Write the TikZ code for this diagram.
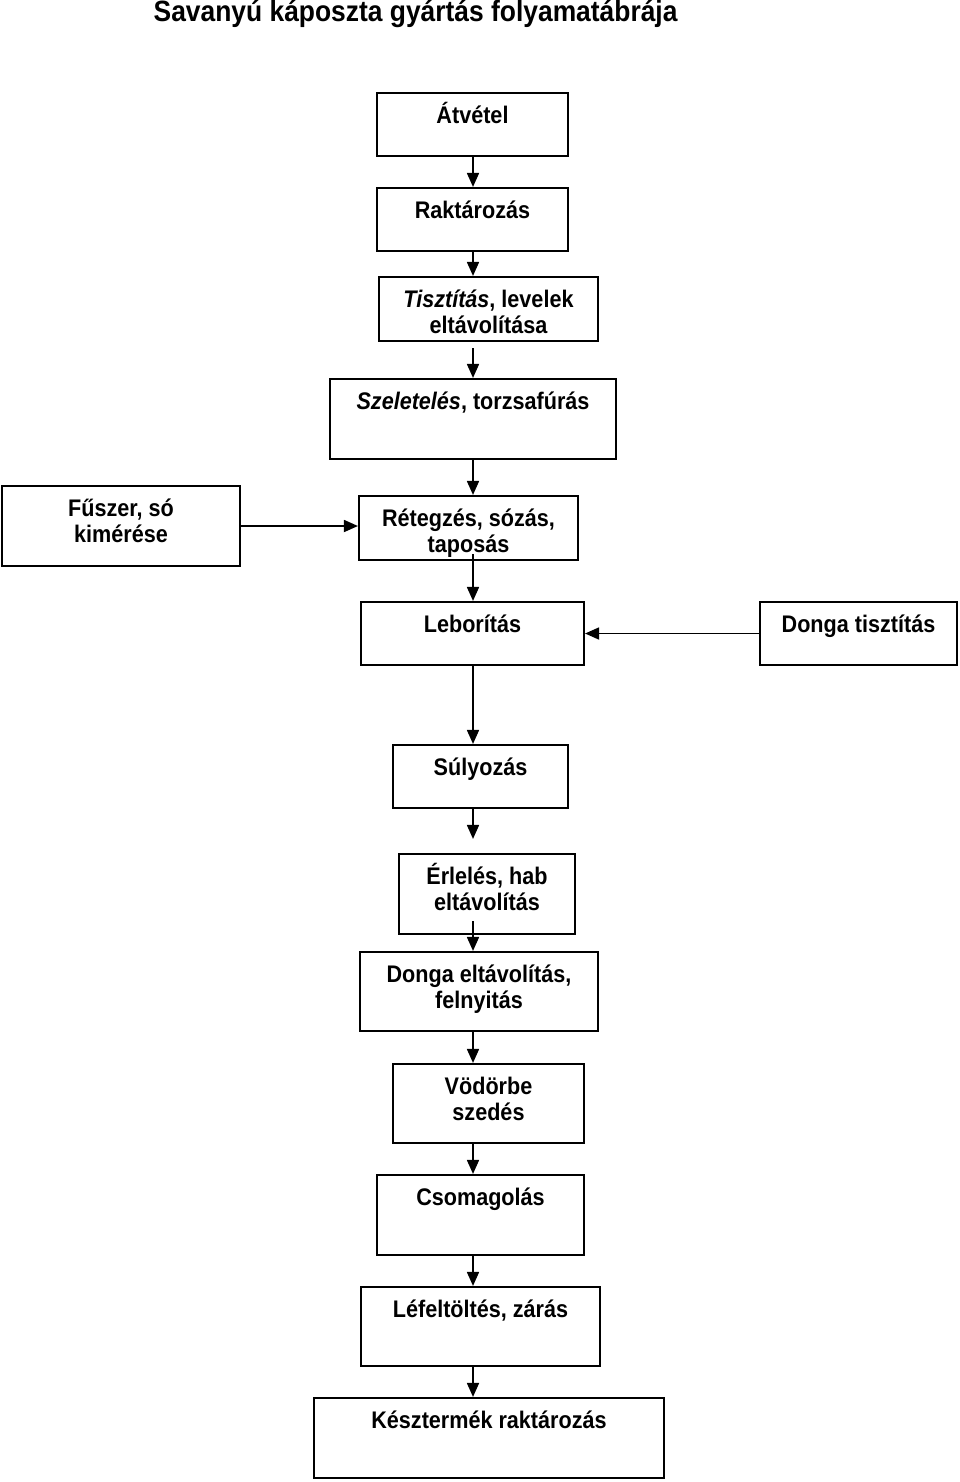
\documentclass[tikz,border=0pt]{standalone}
\usepackage{fontspec}
\setmainfont{Liberation Sans}
\newfontfamily\boxfont[FakeStretch=0.9]{Liberation Sans}
\usetikzlibrary{arrows.meta}
\newdimen\pxu \pxu=0.75pt
\newcommand\bx[2]{\raisebox{0pt}[30\pxu][\dimexpr #1\pxu-30\pxu\relax]{\begin{tabular}[t]{@{}c@{}}#2\end{tabular}}}
\begin{document}
\begin{tikzpicture}[x=0.75pt,y=-0.75pt,
  pbox/.style={draw, line width=1.6pt, inner sep=0pt, font=\boxfont\fontsize{18}{19.5}\selectfont\bfseries},
  conn/.style={line width=1.3pt, -{Triangle[length=10.5pt,width=9pt]}}]
\useasboundingbox (0,0) rectangle (960,1482);
\node[anchor=west, font=\boxfont\fontsize{22}{26}\selectfont\bfseries] (title) at (149,14) {Savanyú káposzta gyártás folyamatábrája};
\node[pbox, minimum width=191\pxu] (a) at (472.5,124.5) {\bx{63}{Átvétel}};
\node[pbox, minimum width=191\pxu] (b) at (472.5,219.5) {\bx{63}{Raktározás}};
\node[pbox, minimum width=219\pxu] (c) at (488.5,309) {\bx{64}{\textit{Tisztítás}, levelek\\eltávolítása}};
\node[pbox, minimum width=286\pxu] (d) at (473,419) {\bx{80}{\textit{Szeletelés}, torzsafúrás}};
\node[pbox, minimum width=238\pxu] (e) at (121,526) {\bx{80}{Fűszer, só\\kimérése}};
\node[pbox, minimum width=219\pxu] (f) at (468.5,528) {\bx{64}{Rétegzés, sózás,\\taposás}};
\node[pbox, minimum width=223\pxu] (g) at (472.5,633.5) {\bx{63}{Leborítás}};
\node[pbox, minimum width=197\pxu] (h) at (858.5,633.5) {\bx{63}{Donga tisztítás}};
\node[pbox, minimum width=175\pxu] (i) at (480.5,776.5) {\bx{63}{Súlyozás}};
\node[pbox, minimum width=176\pxu] (j) at (487,894) {\bx{80}{Érlelés, hab\\eltávolítás}};
\node[pbox, minimum width=238\pxu] (k) at (479,991.5) {\bx{79}{Donga eltávolítás,\\felnyitás}};
\node[pbox, minimum width=191\pxu] (l) at (488.5,1103.5) {\bx{79}{Vödörbe\\szedés}};
\node[pbox, minimum width=207\pxu] (m) at (480.5,1215) {\bx{80}{Csomagolás}};
\node[pbox, minimum width=239\pxu] (n) at (480.5,1326.5) {\bx{79}{Léfeltöltés, zárás}};
\node[pbox, minimum width=350\pxu] (o) at (489,1438) {\bx{80}{Késztermék raktározás}};
\coordinate (ax) at (473,0);
\draw[conn] (ax |- a.south) -- (ax |- b.north);
\draw[conn] (ax |- b.south) -- (ax |- c.north);
\draw[conn, shorten <=6\pxu] (ax |- c.south) -- (ax |- d.north);
\draw[conn] (ax |- d.south) -- (ax |- f.north);
\draw[conn] (e.east) -- (e.east -| f.west);
\draw[conn, shorten <=-7\pxu] (ax |- f.south) -- (ax |- g.north);
\draw[conn] (h.west) -- (h.west -| g.east);
\draw[conn] (ax |- g.south) -- (ax |- i.north);
\draw[conn, shorten >=14\pxu] (ax |- i.south) -- (ax |- j.north);
\draw[conn, shorten <=-14\pxu] (ax |- j.south) -- (ax |- k.north);
\draw[conn] (ax |- k.south) -- (ax |- l.north);
\draw[conn] (ax |- l.south) -- (ax |- m.north);
\draw[conn] (ax |- m.south) -- (ax |- n.north);
\draw[conn] (ax |- n.south) -- (ax |- o.north);
\end{tikzpicture}
\end{document}
